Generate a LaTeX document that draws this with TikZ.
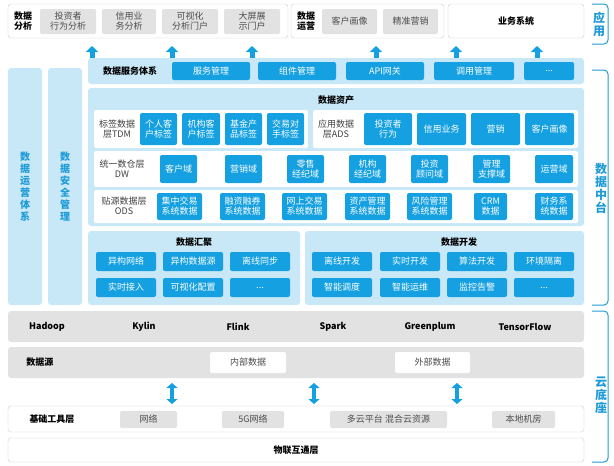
\documentclass[tikz,border=0pt]{standalone}
\usepackage{fontspec}
\setmainfont{Noto Sans CJK SC}
\usetikzlibrary{arrows.meta}
\definecolor{btnblue}{RGB}{20,160,225}
\definecolor{lightblue}{RGB}{200,232,248}
\definecolor{panelgray}{RGB}{226,226,226}
\definecolor{labelblue}{RGB}{30,155,215}
\tikzset{
  base/.style={inner sep=0pt,align=center,font=\fontsize{9}{10}\selectfont},
  btn/.style={base,fill=btnblue,text=white,rounded corners=2pt},
  graybtn/.style={base,fill=panelgray,text=black!70,rounded corners=2pt},
  whitebtn/.style={base,fill=white,text=black!70,rounded corners=2pt},
  panel/.style={base,fill=lightblue,rounded corners=3pt},
  frame/.style={base,fill=white,draw=black!20,rounded corners=3pt},
  rowbox/.style={base,fill=white,rounded corners=2pt},
  grayband/.style={base,fill=panelgray,rounded corners=3pt},
  lbl/.style={base,font=\fontsize{9}{10}\selectfont\bfseries},
  rowlbl/.style={base,text=black!75},
  sidelbl/.style={base,text=labelblue,font=\fontsize{12}{13}\selectfont\bfseries},
  upar/.style={line width=5pt,draw=btnblue,-{Triangle[width=12pt,length=6pt]}},
  dblar/.style={line width=4pt,draw=btnblue,{Triangle[width=11pt,length=5pt]}-{Triangle[width=11pt,length=5pt]}},
  brk/.style={draw=labelblue,line width=1pt,rounded corners=4pt},
}
% box from corner (x1,y1) to corner (x2,y2)
\newcommand\bx[7][]{\node[#2,minimum width={#5pt-#3pt},minimum height={#6pt-#4pt},#1] (#7) at ({(#3+#5)/2},{(#4+#6)/2})}
\begin{document}
\begin{tikzpicture}[x=1pt,y=-1pt]
\useasboundingbox (0,0) rectangle (614,466);

% application layer
\bx{frame}{8}{4}{288}{38}{appA} {};
\node[lbl] (anaL) at (23,21) {数据\\分析};
\bx{graybtn}{40}{9}{96}{34}{ana1} {投资者\\行为分析};
\bx{graybtn}{102}{9}{156}{34}{ana2} {信用业\\务分析};
\bx{graybtn}{162}{9}{218}{34}{ana3} {可视化\\分析门户};
\bx{graybtn}{224}{9}{280}{34}{ana4} {大屏展\\示门户};
\bx{frame}{291}{4}{444}{38}{appB} {};
\node[lbl] (opsL) at (306,21) {数据\\运营};
\bx{graybtn}{322}{9}{377}{34}{ops1} {客户画像};
\bx{graybtn}{383}{9}{438}{34}{ops2} {精准营销};
\bx{frame}{448}{4}{584}{38}{appC} {};
\node[lbl] at (appC) {业务系统};

% up arrows
\foreach \x in {92,172,252,376,456,537}
  \draw[upar] (\x,63) -- (\x,46);

% side columns
\bx{panel}{8}{68}{42}{305}{colA} {};
\node[sidelbl,font=\fontsize{10}{12}\selectfont\bfseries] at (colA) {数\\据\\运\\营\\体\\系};
\bx{panel}{48}{68}{82}{305}{colB} {};
\node[sidelbl,font=\fontsize{10}{12}\selectfont\bfseries] at (colB) {数\\据\\安\\全\\管\\理};

% service layer
\bx{panel}{88}{58}{584}{84}{svc} {};
\node[lbl] (svcL) at (130,71) {数据服务体系};
\bx{btn}{172}{62}{250}{80}{svc1} {服务管理};
\bx{btn}{258}{62}{336}{80}{svc2} {组件管理};
\bx{btn}{346}{62}{424}{80}{svc3} {API网关};
\bx{btn}{434}{62}{514}{80}{svc4} {调用管理};
\bx{btn}{524}{62}{574}{80}{svc5} {...};

% data assets
\bx{panel}{88}{88}{584}{226}{asset} {};
\node[lbl] at (336,100) {数据资产};
\bx{rowbox}{94}{110}{308}{148}{tdm} {};
\node[rowlbl] at (117,129) {标签数据\\层TDM};
\bx{btn}{140}{113}{177}{145}{tdm1} {个人客\\户标签};
\bx{btn}{182}{113}{220}{145}{tdm2} {机构客\\户标签};
\bx{btn}{225}{113}{262}{145}{tdm3} {基金产\\品标签};
\bx{btn}{267}{113}{304}{145}{tdm4} {交易对\\手标签};
\bx{rowbox}{313}{110}{578}{148}{ads} {};
\node[rowlbl] at (336,129) {应用数据\\层ADS};
\bx{btn}{364}{113}{412}{145}{ads1} {投资者\\行为};
\bx{btn}{417}{113}{466}{145}{ads2} {信用业务};
\bx{btn}{471}{113}{520}{145}{ads3} {营销};
\bx{btn}{525}{113}{574}{145}{ads4} {客户画像};
\bx{rowbox}{94}{151}{578}{187}{dw} {};
\node[rowlbl] at (122,169) {统一数仓层\\DW};
\bx{btn}{160}{155}{197}{183}{dw1} {客户域};
\bx{btn}{225}{155}{262}{183}{dw2} {营销域};
\bx{btn}{287}{155}{324}{183}{dw3} {零售\\经纪域};
\bx{btn}{349}{155}{386}{183}{dw4} {机构\\经纪域};
\bx{btn}{411}{155}{448}{183}{dw5} {投资\\顾问域};
\bx{btn}{473}{155}{510}{183}{dw6} {管理\\支撑域};
\bx{btn}{535}{155}{573}{183}{dw7} {运营域};
\bx{rowbox}{94}{190}{578}{223}{ods} {};
\node[rowlbl] at (124,206) {贴源数据层\\ODS};
\bx{btn}{157}{193}{202}{220}{ods1} {集中交易\\系统数据};
\bx{btn}{220}{193}{265}{220}{ods2} {融资融券\\系统数据};
\bx{btn}{282}{193}{327}{220}{ods3} {网上交易\\系统数据};
\bx{btn}{345}{193}{390}{220}{ods4} {资产管理\\系统数据};
\bx{btn}{407}{193}{452}{220}{ods5} {风险管理\\系统数据};
\bx{btn}{474}{193}{507}{220}{ods6} {CRM\\数据};
\bx{btn}{535}{193}{573}{220}{ods7} {财务系\\统数据};

% data gathering / development
\bx{panel}{88}{231}{300}{305}{gath} {};
\node[lbl] at (194,242) {数据汇聚};
\bx{btn}{96}{252}{156}{271}{g1} {异构网络};
\bx{btn}{163}{252}{223}{271}{g2} {异构数据源};
\bx{btn}{230}{252}{290}{271}{g3} {离线同步};
\bx{btn}{96}{278}{156}{297}{g4} {实时接入};
\bx{btn}{163}{278}{223}{297}{g5} {可视化配置};
\bx{btn}{230}{278}{290}{297}{g6} {...};
\bx{panel}{305}{231}{584}{305}{dev} {};
\node[lbl] at (459,242) {数据开发};
\bx{btn}{312}{252}{372}{271}{d1} {离线开发};
\bx{btn}{380}{252}{440}{271}{d2} {实时开发};
\bx{btn}{447}{252}{507}{271}{d3} {算法开发};
\bx{btn}{514}{252}{574}{271}{d4} {环境隔离};
\bx{btn}{312}{278}{372}{297}{d5} {智能调度};
\bx{btn}{380}{278}{440}{297}{d6} {智能运维};
\bx{btn}{447}{278}{507}{297}{d7} {监控告警};
\bx{btn}{514}{278}{574}{297}{d8} {...};

% cloud base
\bx{grayband}{8}{311}{584}{342}{eng} {};
\foreach \x/\t in {47/Hadoop,144/Kylin,238/Flink,333/Spark,430/Greenplum,525/TensorFlow}
  \node[lbl] at (\x,327) {\t};
\bx{grayband}{8}{347}{584}{378}{src} {};
\node[lbl] at (40,362) {数据源};
\bx{whitebtn}{210}{352}{286}{373}{src1} {内部数据};
\bx{whitebtn}{395}{352}{470}{373}{src2} {外部数据};
\foreach \x in {172,314,457}
  \draw[dblar] (\x,383) -- (\x,404);
\bx{frame}{8}{406}{584}{432}{tool} {};
\node[lbl] at (52,419) {基础工具层};
\bx{graybtn}{120}{411}{177}{428}{t1} {网络};
\bx{graybtn}{222}{411}{284}{428}{t2} {5G网络};
\bx{graybtn}{330}{411}{447}{428}{t3} {多云平台 混合云资源};
\bx{graybtn}{492}{411}{555}{428}{t4} {本地机房};
\bx{frame}{8}{438}{584}{462}{iot} {};
\node[lbl] at (iot) {物联互通层};

% side brackets
\draw[brk] (592,4) -- (608,4) -- (608,44) -- (592,44);
\node[sidelbl,fill=white] at (599,24) {应\\用};
\draw[brk] (592,70) -- (608,70) -- (608,305) -- (592,305);
\node[sidelbl,fill=white] at (601,188) {数\\据\\中\\台};
\draw[brk] (592,311) -- (608,311) -- (608,462) -- (592,462);
\node[sidelbl,fill=white] at (601,395) {云\\底\\座};
\end{tikzpicture}
\end{document}
